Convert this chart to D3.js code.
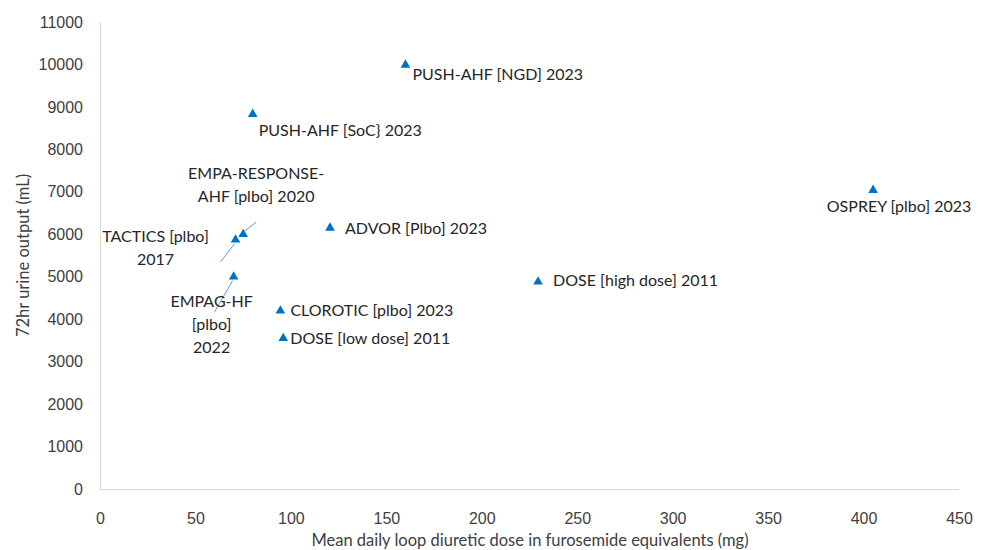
<!DOCTYPE html>
<html>
<head>
<meta charset="utf-8">
<script src="https://cdn.jsdelivr.net/npm/d3@7"></script>
<style>
  body { margin: 0; background: #fff; }
  svg { font-family: Lato, "Open Sans", sans-serif; }
  .tick text { font-size: 16px; fill: #404040; }
  .axis-label { font-size: 16.5px; fill: #404040; }
  .pt-label { font-size: 16px; fill: #262626; }
</style>
</head>
<body>
<svg width="985" height="550"></svg>
<script>
// data
const trials = ['PUSH-AHF [NGD] 2023', 'PUSH-AHF [SoC} 2023', 'EMPA-RESPONSE-AHF [plbo] 2020',
  'TACTICS [plbo] 2017', 'EMPAG-HF [plbo] 2022', 'ADVOR [Plbo] 2023', 'CLOROTIC [plbo] 2023',
  'DOSE [low dose] 2011', 'DOSE [high dose] 2011', 'OSPREY [plbo] 2023'];
const doseMg = [160, 80, 75, 71, 70, 120.5, 94.5, 96, 229.5, 405];
const urineMl = [9990, 8830, 6000, 5870, 5000, 6150, 4200, 3550, 4880, 7040];
const xTicks = [0, 50, 100, 150, 200, 250, 300, 350, 400, 450];
const yTicks = d3.range(0, 11001, 1000);

// label layout: lines, anchor, offset (px) from the point, optional leader line end
const labelLayout = [
  { lines: ['PUSH-AHF [NGD] 2023'], anchor: 'start', dx: 7, dy: 10 },
  { lines: ['PUSH-AHF [SoC} 2023'], anchor: 'start', dx: 6, dy: 17 },
  { lines: ['EMPA-RESPONSE-', 'AHF [plbo] 2020'], anchor: 'middle', dx: 13, dy: -49, lead: [13, -12] },
  { lines: ['TACTICS [plbo]', '2017'], anchor: 'middle', dx: -80, dy: 9, lead: [-15, 22] },
  { lines: ['EMPAG-HF', '[plbo]', '2022'], anchor: 'middle', dx: -22, dy: 48, lead: [-19, 35] },
  { lines: ['ADVOR [Plbo] 2023'], anchor: 'start', dx: 15, dy: 1 },
  { lines: ['CLOROTIC [plbo] 2023'], anchor: 'start', dx: 10, dy: 0 },
  { lines: ['DOSE [low dose] 2011'], anchor: 'start', dx: 7, dy: 1 },
  { lines: ['DOSE [high dose] 2011'], anchor: 'start', dx: 15, dy: -1 },
  { lines: ['OSPREY [plbo] 2023'], anchor: 'middle', dx: 26, dy: 17 }
];

const margin = { top: 22, right: 26, bottom: 61, left: 100 };
const width = 985 - margin.left - margin.right;
const height = 550 - margin.top - margin.bottom;

const svg = d3.select('svg').append('g')
  .attr('transform', 'translate(' + margin.left + ',' + margin.top + ')');

const x = d3.scaleLinear().domain([0, 450]).range([0, 859]);
const y = d3.scaleLinear().domain([0, 11000]).range([height, 0]);

// axes
const xAxis = svg.append('g').attr('transform', 'translate(0,' + height + ')')
  .call(d3.axisBottom(x).tickValues(xTicks).tickSize(0).tickPadding(24));
xAxis.select('.domain').attr('stroke', '#d9d9d9').attr('d', 'M0,0.5H' + x(450));
const yAxis = svg.append('g')
  .call(d3.axisLeft(y).tickValues(yTicks).tickFormat(d3.format('d')).tickSize(0).tickPadding(17));
yAxis.select('.domain').attr('stroke', '#d9d9d9');

svg.append('text').attr('class', 'axis-label')
  .attr('text-anchor', 'middle')
  .attr('x', 430).attr('y', height + 57)
  .text('Mean daily loop diuretic dose in furosemide equivalents (mg)');
svg.append('text').attr('class', 'axis-label')
  .attr('text-anchor', 'middle')
  .attr('transform', 'translate(' + (-71) + ',' + (height / 2) + ')rotate(-90)')
  .text('72hr urine output (mL)');

const data = trials.map((t, i) => ({ name: t, x: doseMg[i], y: urineMl[i], lay: labelLayout[i] }));

// leader lines
svg.selectAll('.lead').data(data.filter(d => d.lay.lead)).enter().append('line')
  .attr('stroke', '#5b9bd5').attr('stroke-width', 1)
  .attr('x1', d => x(d.x) + d.lay.lead[0]).attr('y1', d => y(d.y) + d.lay.lead[1])
  .attr('x2', d => x(d.x) + (d.lay.lead[0] > 0 ? 1 : -1)).attr('y2', d => y(d.y) + (d.lay.lead[1] > 0 ? 4 : -3));

// markers
const tri = d3.symbol().type(d3.symbolTriangle).size(40);
svg.selectAll('.pt').data(data).enter().append('path')
  .attr('d', tri).attr('fill', '#0070c0')
  .attr('transform', d => 'translate(' + x(d.x) + ',' + y(d.y) + ')');

// labels
const labels = svg.selectAll('.pt-label').data(data).enter().append('text')
  .attr('class', 'pt-label')
  .attr('text-anchor', d => d.lay.anchor)
  .attr('x', d => x(d.x) + d.lay.dx)
  .attr('y', d => y(d.y) + d.lay.dy);
labels.each(function(d) {
  const n = d.lay.lines.length;
  d3.select(this).selectAll('tspan').data(d.lay.lines).enter().append('tspan')
    .attr('x', x(d.x) + d.lay.dx)
    .attr('dy', (l, i) => i == 0 ? ((-(n - 1) * 11.5 + 5) + 'px') : '23px')
    .text(l => l);
});
</script>
</body>
</html>
